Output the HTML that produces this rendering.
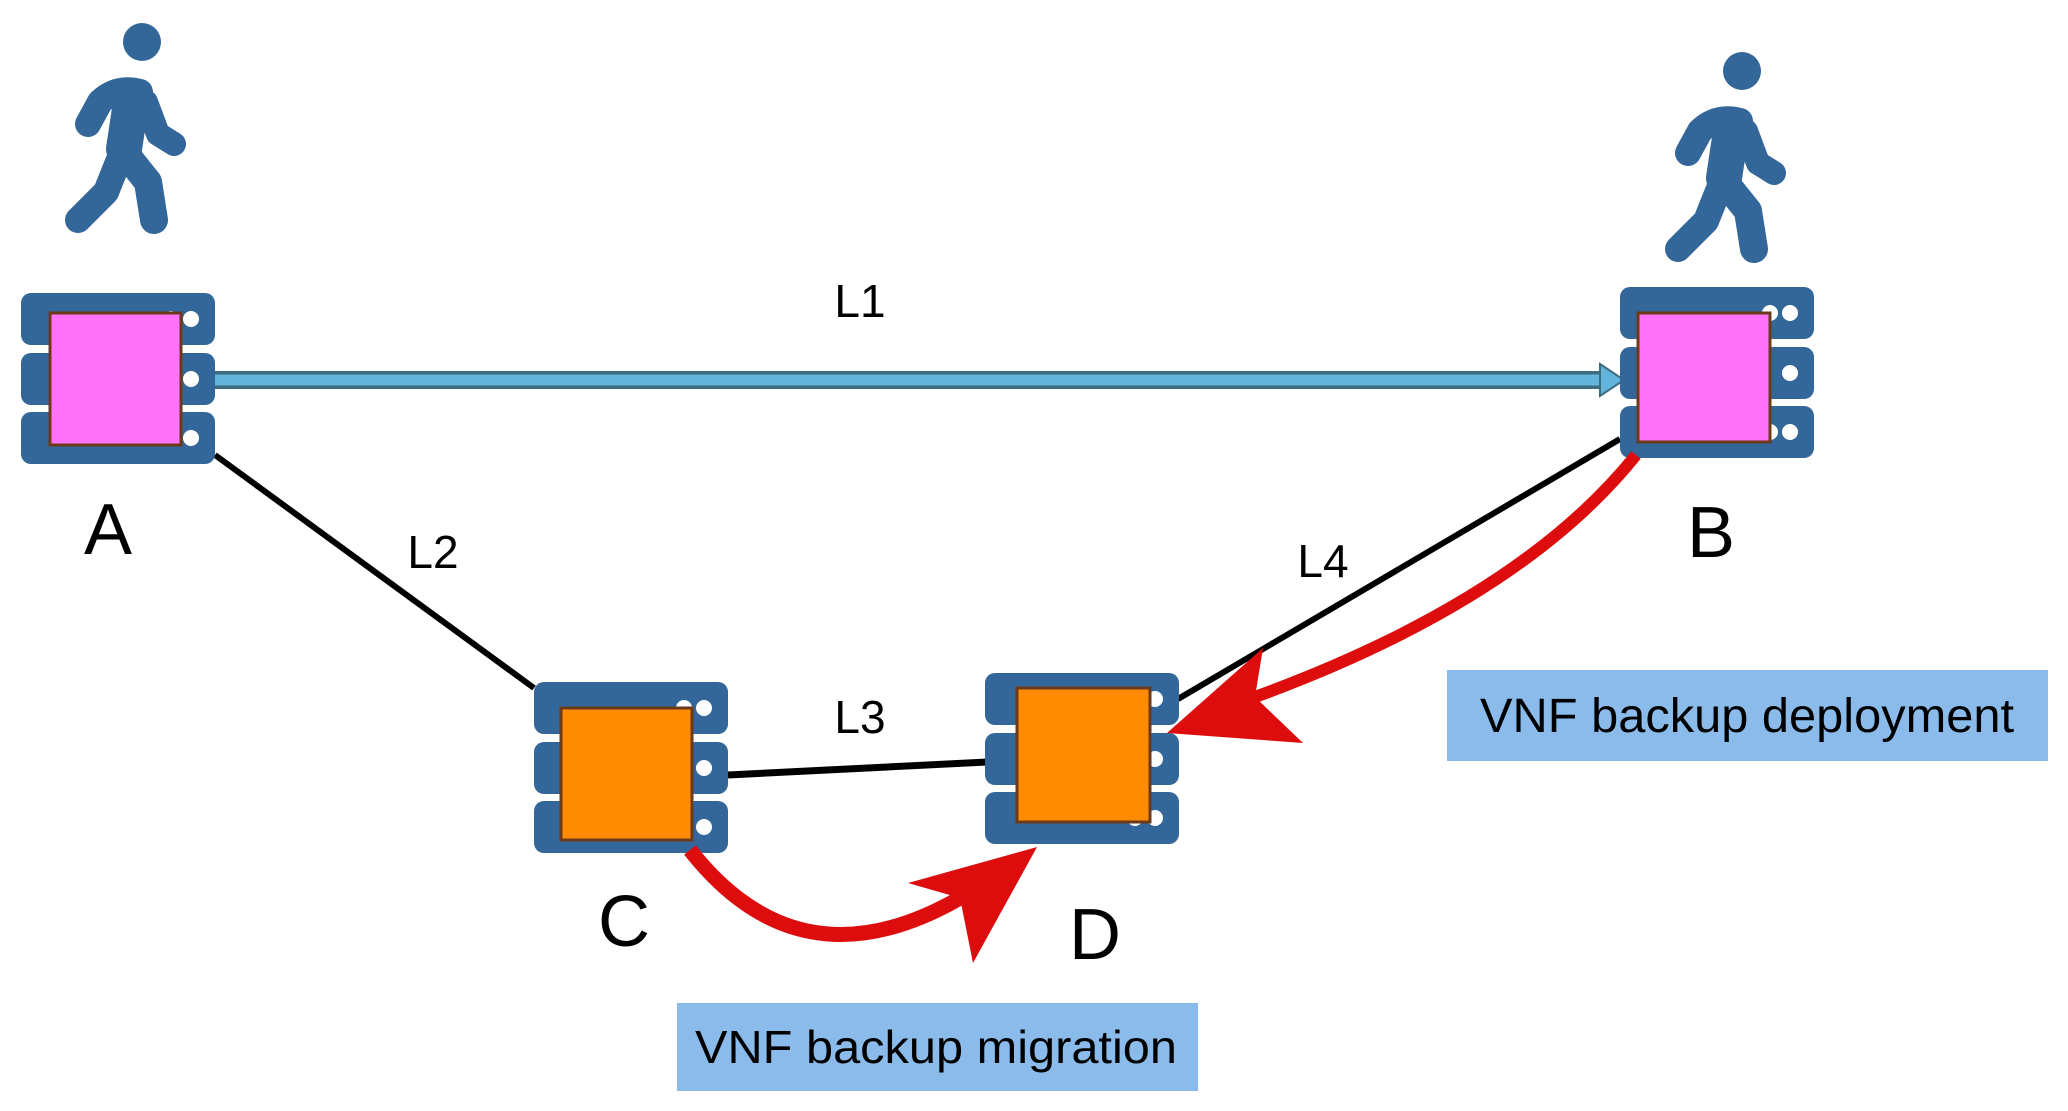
<!DOCTYPE html>
<html><head><meta charset="utf-8"><style>
html,body{margin:0;padding:0;background:#fff;}
svg{display:block;}
text{font-family:"Liberation Sans",sans-serif;}
</style></head><body>
<svg width="2068" height="1111" viewBox="0 0 2068 1111" xmlns="http://www.w3.org/2000/svg">
<defs>
<g id="bars">
  <rect x="0" y="0" width="194" height="52" rx="10" fill="#336699"/>
  <rect x="0" y="60" width="194" height="52" rx="10" fill="#336699"/>
  <rect x="0" y="119" width="194" height="52" rx="10" fill="#336699"/>
  <circle cx="170" cy="26" r="8" fill="#fff"/><circle cx="150" cy="26" r="8" fill="#fff"/>
  <circle cx="170" cy="86" r="8" fill="#fff"/>
  <circle cx="170" cy="145" r="8" fill="#fff"/><circle cx="150" cy="145" r="8" fill="#fff"/>
</g>
<g id="walker" fill="none" stroke="#336699" stroke-linecap="round" stroke-linejoin="round">
  <circle cx="80" cy="18" r="19" fill="#336699" stroke="none"/>
  <path d="M70,72 L62,125" stroke-width="36"/>
  <path d="M78,68 Q55,62 38,78 L26,100" stroke-width="26"/>
  <path d="M84,78 L96,110 L112,120" stroke-width="24"/>
  <path d="M56,138 L44,168 L16,196" stroke-width="26"/>
  <path d="M62,128 L86,158 L92,196" stroke-width="28"/>
</g>
</defs>

<use href="#walker" x="62" y="24"/>
<use href="#walker" x="1662" y="53"/>

<line x1="215" y1="455" x2="534" y2="688" stroke="#000" stroke-width="6"/>
<line x1="728" y1="775" x2="987" y2="762" stroke="#000" stroke-width="7"/>
<line x1="1178" y1="699" x2="1620" y2="439" stroke="#000" stroke-width="6"/>
<line x1="215" y1="380" x2="1605" y2="380" stroke="#3d6d80" stroke-width="18"/>
<line x1="215" y1="380" x2="1605" y2="380" stroke="#63b4dc" stroke-width="11"/>
<polygon points="1600,364 1624,380 1600,396" fill="#63b4dc" stroke="#3d6d80" stroke-width="2"/>

<use href="#bars" x="21" y="293"/>
<rect x="50" y="313" width="131" height="132" fill="#ff73fa" stroke="#6b3a1a" stroke-width="3"/>
<use href="#bars" x="1620" y="287"/>
<rect x="1638" y="313" width="132" height="129" fill="#ff73fa" stroke="#6b3a1a" stroke-width="3"/>
<use href="#bars" x="534" y="682"/>
<rect x="561" y="708" width="131" height="132" fill="#ff8c00" stroke="#6b3a1a" stroke-width="3"/>
<use href="#bars" x="985" y="673"/>
<rect x="1017" y="688" width="133" height="134" fill="#ff8c00" stroke="#6b3a1a" stroke-width="3"/>

<path d="M1636,455 Q1520,600 1255,697" fill="none" stroke="#dd0d0d" stroke-width="12"/>
<polygon points="1167,733 1263,648 1255,697 1303,743" fill="#dd0d0d"/>
<path d="M690,850 Q800,990 960,898" fill="none" stroke="#dd0d0d" stroke-width="15"/>
<polygon points="1037,847 908,883 960,898 973,963" fill="#dd0d0d"/>

<text x="108" y="554" font-size="72" text-anchor="middle">A</text>
<text x="1711" y="557" font-size="72" text-anchor="middle">B</text>
<text x="624" y="946" font-size="72" text-anchor="middle">C</text>
<text x="1095" y="959" font-size="72" text-anchor="middle">D</text>
<text x="860" y="317" font-size="46" text-anchor="middle">L1</text>
<text x="433" y="568" font-size="46" text-anchor="middle">L2</text>
<text x="860" y="733" font-size="46" text-anchor="middle">L3</text>
<text x="1323" y="577" font-size="46" text-anchor="middle">L4</text>

<rect x="1447" y="670" width="601" height="91" fill="#8abbeb"/>
<text x="1480" y="732" font-size="48" textLength="534" lengthAdjust="spacingAndGlyphs">VNF backup deployment</text>
<rect x="677" y="1003" width="521" height="88" fill="#8abbeb"/>
<text x="695" y="1063" font-size="46" textLength="482" lengthAdjust="spacingAndGlyphs">VNF backup migration</text>
</svg>
</body></html>
